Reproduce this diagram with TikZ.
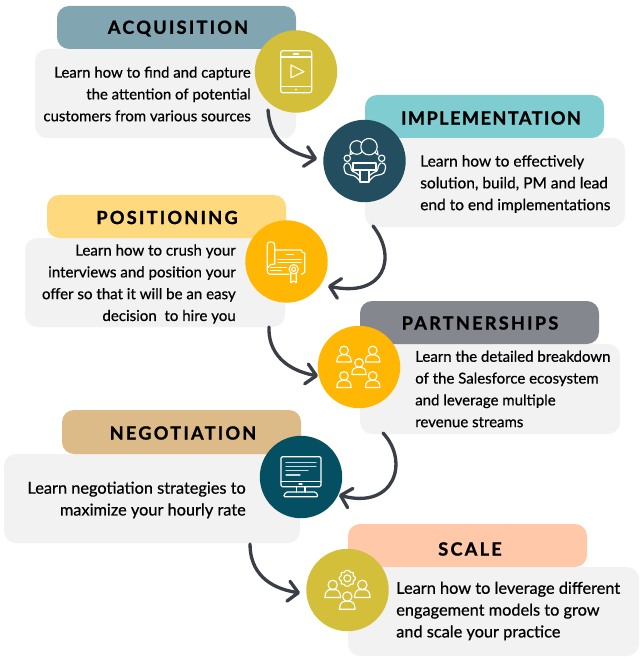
\documentclass[tikz,border=0pt]{standalone}
\usepackage{fontspec}
\setmainfont{Lato}
\newfontfamily\headfont[LetterSpace=12.5,FakeBold=1.2]{Lato Bold}
\newfontfamily\headfontB[LetterSpace=8,FakeBold=1.2]{Lato Bold}
\newfontfamily\bodyfont[FakeBold=0.6]{Lato}
\usetikzlibrary{arrows.meta,calc}
\definecolor{cbody}{HTML}{F2F2F2}
\definecolor{carrow}{HTML}{3A3F47}
\definecolor{colive}{HTML}{D4BF3B}
\definecolor{cteal}{HTML}{234E5F}
\definecolor{camber}{HTML}{FFB703}
\definecolor{cpetrol}{HTML}{054F63}
\tikzset{
  x=0.75pt,y=-0.75pt,
  bodybox/.style={fill=cbody,rounded corners=9pt},
  headbox/.style={rounded corners=9pt},
  headlabel/.style={font=\headfont\fontsize{13.6}{16}\selectfont,text=black,inner sep=0pt,anchor=center},
  bodytext/.style={font=\bodyfont\fontsize{#1}{16.35}\selectfont,text=black,inner sep=0pt},
  disc/.style={circle,inner sep=0pt,minimum size=61.8pt},
  flow/.style={draw=carrow,line width=2.5pt,line cap=round,-{Straight Barb[length=7.5pt,width=15pt,line width=2.5pt,round]}},
  ico/.style={draw=white,line width=0.85pt,line join=round,line cap=round},
}
\newcommand{\person}[3]{% x y scale
  \begin{scope}[shift={(#1,#2)},scale=#3]
    \draw[ico] (0,-5.7) circle (6);
    \draw[ico] (-10,10.5) .. controls (-10,2.5) and (-6,0.5) .. (-3,0.5) -- (3,0.5) .. controls (6,0.5) and (10,2.5) .. (10,10.5) -- cycle;
  \end{scope}}
\begin{document}
\begin{tikzpicture}
\useasboundingbox (0,0) rectangle (639,659);
% bodies and headers
\path[bodybox] (35,49) rectangle (296,138);
\path[headbox,fill={rgb,255:red,130;green,165;blue,178}] (57,6) rectangle (296,49);
\path[bodybox] (365,138) rectangle (625,227);
\path[headbox,fill={rgb,255:red,127;green,205;blue,208}] (365,95) rectangle (604,138);
\path[bodybox] (25,238) rectangle (285,327);
\path[headbox,fill={rgb,255:red,255;green,217;blue,125}] (47,195) rectangle (286,238);
\path[bodybox] (360,344) rectangle (620,434);
\path[headbox,fill={rgb,255:red,133;green,135;blue,143}] (360,301) rectangle (599,344);
\path[bodybox] (4,454) rectangle (300,543);
\path[headbox,fill={rgb,255:red,221;green,187;blue,136}] (62,410) rectangle (301,454);
\path[bodybox] (348,567) rectangle (639,656);
\path[headbox,fill={rgb,255:red,255;green,201;blue,169}] (348,524) rectangle (587,567);
% header labels
\node[headlabel] (hacq) at (178,28.5) {ACQUISITION};
\node[headlabel,font=\headfontB\fontsize{13.6}{16}\selectfont] (himp) at (491,118) {IMPLEMENTATION};
\node[headlabel] (hpos) at (167,217.5) {POSITIONING};
\node[headlabel] (hpar) at (480,323) {PARTNERSHIPS};
\node[headlabel] (hneg) at (183,433) {NEGOTIATION};
\node[headlabel] (hsca) at (470,549) {SCALE};
% body text
\node[bodytext=11.2,align=right,anchor=east] (tacq) at (251,94) {Learn how to find and capture\\the attention of potential\\customers from various sources};
\node[bodytext=11.6,align=left,anchor=west] (timp) at (420,184) {Learn how to effectively\\solution, build, PM and lead\\end to end implementations};
\node[bodytext=11.3,align=right,anchor=east] (tpos) at (236,284) {Learn how to crush your\\interviews and position your\\offer so that it will be an easy\\decision\ \ to hire you};
\node[bodytext=11.25,align=left,anchor=west] (tpar) at (415,389) {Learn the detailed breakdown\\of the Salesforce ecosystem\\and leverage multiple\\revenue streams};
\node[bodytext=12.25,align=right,anchor=east] (tneg) at (246,500) {Learn negotiation strategies to\\maximize your hourly rate};
\node[bodytext=12.25,align=left,anchor=west] (tsca) at (396,611) {Learn how to leverage different\\engagement models to grow\\and scale your practice};
% discs
\node[disc,fill=colive] (cacq) at (296,71.5) {};
\node[disc,fill=cteal] (cimp) at (364.5,161) {};
\node[disc,fill=camber] (cpos) at (286.5,261.5) {};
\node[disc,fill=camber] (cpar) at (359,367) {};
\node[disc,fill=cpetrol] (cneg) at (301,477) {};
\node[disc,fill=colive] (csca) at (347.5,590) {};
% connector ends
\coordinate (s1) at (268,110);
\coordinate (s2) at (373,226);
\coordinate (s3) at (269,327);
\coordinate (s4) at (383,433);
\coordinate (s5) at (250,544);
\coordinate (e1) at (317,159);
\coordinate (e2) at (328,286);
\coordinate (e3) at (318,376);
\coordinate (e4) at (339,495);
\coordinate (e5) at (300,593);
\draw[flow] (s1) .. controls (270,138) and (285,152) .. (e1);
\draw[flow] (s2) .. controls (398,258) and (384,298) .. (e2);
\draw[flow] (s3) .. controls (268,352) and (285,370) .. (e3);
\draw[flow] (s4) .. controls (410,462) and (394,510) .. (e4);
\draw[flow] (s5) .. controls (250,572) and (268,588) .. (e5);
% tablet icon
\draw[ico,rounded corners=1.5pt] (280.7,50.7) rectangle (311.7,92.7);
\draw[ico] (280.7,57) -- (311.7,57) (280.7,86.7) -- (311.7,86.7);
\draw[ico] (293.5,54) -- (298.5,54);
\fill[white] (296,89.7) circle (1);
\draw[ico] (291,65) -- (304,71.7) -- (291,77.7) -- cycle;
% meeting icon
\draw[ico] (356.7,147.5) circle (6.8);
\draw[ico,fill=cteal] (369,146.7) circle (8.2);
\draw[ico] (350.5,151) -- (350,154.5) -- (353,153.5);
\draw[ico] (375,152.5) -- (378,155) -- (377.5,151);
\draw[ico] (347.3,158.3) circle (3.2);
\draw[ico] (381.7,158.3) circle (3.2);
\draw[ico] (353,163) rectangle (376,170);
\draw[ico] (360,170) -- (360,182) -- (369,182) -- (369,170);
\draw[ico,rounded corners=2.5pt] (347,163) -- (344,163) -- (344,171) -- (347,175) -- (354,175) -- (360,181);
\draw[ico,rounded corners=2pt] (348,163) -- (351,165) -- (351,171) -- (355,172) -- (360,176);
\draw[ico,rounded corners=2.5pt] (382,163) -- (385.5,163) -- (385.5,171) -- (382,175) -- (375,175) -- (369,181);
\draw[ico,rounded corners=2pt] (381,163) -- (378,165) -- (378,171) -- (374,172) -- (369,176);
% certificate icon
\draw[ico] (267.3,270) -- (267.3,245) .. controls (267.3,241.5) and (270,242) .. (272,242) .. controls (274,242) and (274.7,243.5) .. (274.7,246) -- (274.7,264);
\draw[ico] (274.7,250) -- (301.3,250) .. controls (301.3,252) and (302.5,253) .. (304.7,253) -- (304.7,272.3) -- (301.5,274.3);
\draw[ico] (267.3,268) .. controls (268.5,265) and (272,263.5) .. (274.7,264);
\draw[ico] (267.3,270) .. controls (267.3,273) and (268,274.3) .. (270,274.3) -- (289,274.3);
\draw[ico] (286.3,254.3) -- (293.7,254.3) (278,259.3) -- (301.3,259.3) (278,262.7) -- (301.3,262.7);
\draw[ico] (270.7,267.3) -- (286.3,267.3) (270.7,270.7) -- (281.3,270.7);
\draw[ico,fill=camber] (293.7,269.3) circle (4.6);
\draw[ico] (293.7,269.3) circle (2);
\draw[ico] (290.7,273.5) -- (290.7,282.7) -- (293.5,281) -- (296.3,282.7) -- (296.3,273.5);
% group icon
\person{344}{354.5}{0.72}
\person{372.7}{354.5}{0.72}
\person{359}{367}{0.72}
\person{344}{380}{0.72}
\person{372.7}{380}{0.72}
% computer icon
\draw[ico,rounded corners=1pt] (281,456.7) rectangle (321,486.7);
\draw[ico] (281,481.7) -- (321,481.7);
\draw[ico] (299,484) -- (302,484);
\draw[ico,draw opacity=.8] (286,462.3) -- (316,462.3) (286,466.7) -- (316,466.7) (286,470.7) -- (308,470.7) (286,475) -- (300,475);
\draw[ico] (296.7,486.7) -- (296.7,492) (305,486.7) -- (305,492);
\draw[ico,rounded corners=1pt] (283.3,496.7) -- (286,492) -- (316,492) -- (318.3,496.7) -- cycle;
% team with gear icon
\person{332.7}{589.3}{0.78}
\person{362.3}{589.3}{0.78}
\person{347.3}{601}{0.78}
\draw[ico] (347.3,578.3) circle (3.5);
\draw[ico] plot[smooth cycle,tension=0.15] coordinates {
  (347.3+1.5,578.3-7.8) (347.3+3.2,578.3-6)
  (347.3+6,578.3-5.6) (347.3+6,578.3-2.6)
  (347.3+8,578.3-1) (347.3+8,578.3+1)
  (347.3+6,578.3+2.6) (347.3+6,578.3+5.6)
  (347.3+3.2,578.3+6) (347.3+1.5,578.3+7.8)
  (347.3-1.5,578.3+7.8) (347.3-3.2,578.3+6)
  (347.3-6,578.3+5.6) (347.3-6,578.3+2.6)
  (347.3-8,578.3+1) (347.3-8,578.3-1)
  (347.3-6,578.3-2.6) (347.3-6,578.3-5.6)
  (347.3-3.2,578.3-6) (347.3-1.5,578.3-7.8)};
\end{tikzpicture}
\end{document}
